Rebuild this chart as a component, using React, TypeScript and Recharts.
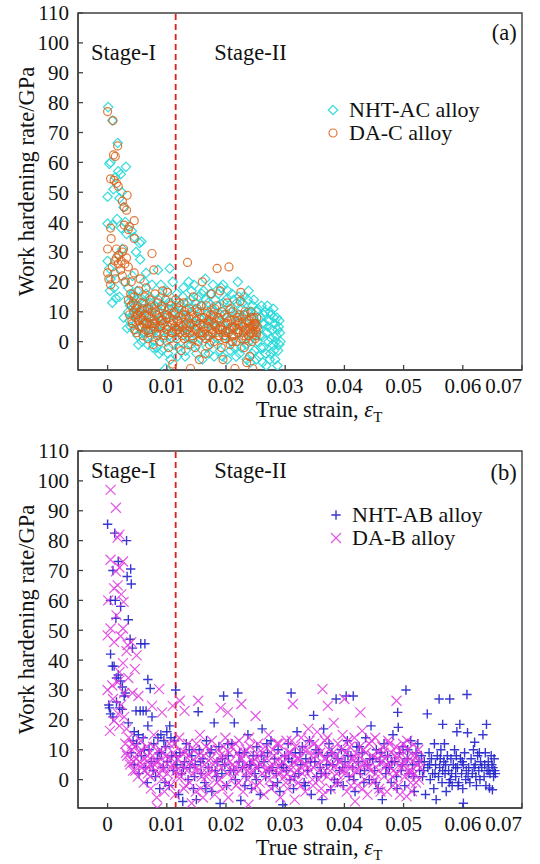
import { ScatterChart, Scatter, XAxis, YAxis, ReferenceLine, ReferenceArea, ReferenceDot, Legend } from 'recharts'

// reading of the two work-hardening panels, strain vs rate (GPa)
const FONT = 'Liberation Serif, Times New Roman, Times, Nimbus Roman, DejaVu Serif, Noto Serif, serif'
const X_TICKS = [0, 0.01, 0.02, 0.03, 0.04, 0.05, 0.06, 0.07]
const Y_TICKS = [0, 10, 20, 30, 40, 50, 60, 70, 80, 90, 100, 110]
const X_DOMAIN: [number, number] = [-0.005, 0.07]
const Y_DOMAIN: [number, number] = [-9.5, 110]
const STAGE_SPLIT = 0.0115

const COLORS = {
  cyan: '#2adada',
  orange: '#da621a',
  blue: '#2222cc',
  magenta: '#e038e0',
  red: '#e01e1e',
  axis: '#404040',
  text: '#111',
}

type Pt = [number, number]

// panel (a) NHT-AC alloy
const nhtAc: Pt[] = [
  [0.0001,78.5],[0.0008,74],[0.0017,66.5],[0.0005,60],[0.0003,59.5],[0.0018,57],[0.0031,58.5],[0.0022,56],[0.0013,55],[0.0,48.5],
  [0.001,51],[0.0024,50],[0.002,48],[0.0027,45],[0.0,39.5],[0.0008,39],[0.0016,41],[0.0023,38],[0.003,40],[0.0032,36],
  [0.0041,37],[0.0045,35],[0.0054,33],[0.0057,33.5],[0.0048,30],[0.0055,27.5],[0.0,27],[0.0003,24.5],[0.0012,23],[0.0005,21],
  [0.0008,13],[0.0014,14.5],[0.002,15],[0.0028,20],[0.0035,18],[0.0027,8],[0.0033,4.5],[0.0038,12],[0.0042,22],[0.0062,20],
  [0.0065,23],[0.0018,29],[0.0025,31],[0.0011,18],[0.0004,17],
  [0.0035,10],[0.0037,7],[0.004,15],[0.0042,9],[0.0044,4],[0.0046,12],[0.0048,6],[0.005,17],[0.0051,2],[0.0053,10],
  [0.0055,14],[0.0057,5],[0.0058,0],[0.006,8],[0.0062,11],[0.0063,3],[0.0065,16],[0.0067,6],[0.0068,-1],[0.007,9],
  [0.0072,13],[0.0073,2],[0.0075,19],[0.0076,5],[0.0078,0.5],[0.008,11],[0.0082,7],[0.0083,-2],[0.0085,24],[0.0086,14],
  [0.0088,3],[0.009,19],[0.0091,8],[0.0092,-3],[0.0094,12],[0.0095,1],[0.0097,5],[0.0098,-9],[0.01,17],[0.0101,9],
  [0.0102,-4],[0.0104,2],[0.0105,24.5],[0.0107,13],[0.0108,6],[0.011,20],[0.0111,-1],[0.0113,10],[0.0115,3],[0.0117,16],
  [0.0118,-5],[0.012,7],
  [0.0122,12],[0.0124,0],[0.0126,4],[0.0128,18],[0.013,8],[0.0132,-3],[0.0134,11],[0.0135,2],[0.0137,20],[0.0138,6],
  [0.014,14],[0.0141,-1],[0.0143,9],[0.0145,3],[0.0146,19],[0.0148,11],[0.015,-4],[0.0151,5],[0.0153,15],[0.0155,8],
  [0.0156,1],[0.0158,12],[0.016,-6],[0.0162,17],[0.0163,4],[0.0165,21],[0.0167,9],[0.0168,-2],[0.017,13],[0.0172,6],
  [0.0174,0],[0.0175,16],[0.0177,3],[0.0179,10],[0.018,-5],[0.0182,14],[0.0184,7],[0.0186,1],[0.0188,12],[0.019,-3],
  [0.0192,18],[0.0193,5],[0.0195,19],[0.0197,9],[0.0199,2],[0.02,14],[0.0202,-6],[0.0204,7],[0.0206,11],[0.0208,0],
  [0.021,16],[0.0212,4],[0.0214,-2],[0.0216,9],[0.0218,13],[0.022,20],[0.0221,3],[0.0223,-4],[0.0225,8],[0.0227,11],
  [0.0229,1],[0.023,15],[0.0232,6],[0.0234,-1],[0.0236,10],[0.0238,17],[0.024,4],[0.0241,-7],[0.0243,8],[0.0245,12],
  [0.0246,2],[0.0248,-3],[0.025,6],[0.0252,10],[0.0253,0],[0.0255,4],[0.0256,-5],[0.0258,8],[0.026,12],[0.0261,2],
  [0.0263,-2],[0.0265,6],[0.0266,10],[0.0268,-8],[0.0269,3],[0.027,12],[0.0272,0],[0.0273,7],[0.0275,-4],[0.0276,9],
  [0.0278,4],[0.0279,-1],[0.028,11],[0.0282,6],[0.0283,-6],[0.0285,2],[0.0286,8],[0.0288,-3],[0.0289,5],[0.029,-1],
  [0.0291,3],[0.0287,-8],[0.0284,0],[0.0271,5],[0.0262,6],[0.0257,2],
  [0.0036,13],[0.0039,5],[0.0043,16],[0.0047,9],[0.0049,14],[0.0052,-1],[0.0056,11],[0.0059,3],[0.0061,13],[0.0064,7],
  [0.0069,4],[0.0071,15],[0.0074,8],[0.0077,-2],[0.0079,12],[0.0081,4],[0.0084,9],[0.0087,-4],[0.0089,15],[0.0093,6],
  [0.0096,11],[0.0099,0],[0.0103,13],[0.0106,-6],[0.0109,9],[0.0112,4],[0.0116,12],[0.0119,-2],[0.0123,9],[0.0127,15],
  [0.0131,-5],[0.0133,5],[0.0136,13],[0.0139,1],[0.0142,17],[0.0147,6],[0.0149,13],[0.0152,-1],[0.0157,10],[0.0159,16],
  [0.0161,2],[0.0166,14],[0.0169,6],[0.0171,-4],[0.0176,11],[0.0178,19],[0.0181,6],[0.0185,-1],[0.0187,16],[0.0191,9],
  [0.0194,-5],[0.0196,13],[0.0201,4],[0.0203,17],[0.0207,-3],[0.0209,10],[0.0213,14],[0.0217,-5],[0.0219,6],[0.0222,15],
  [0.0226,-2],[0.0228,13],[0.0233,9],[0.0235,-6],[0.0237,14],[0.0239,0],[0.0242,10],[0.0244,-4],[0.0247,14],[0.0249,7],
  [0.0251,-6],[0.0254,11],[0.0259,-2],[0.0264,9],[0.0267,-4],[0.0274,10],[0.0277,1],[0.0281,-3],[0.0287,4],[0.029,7],
  [0.0292,0],[0.0274,-6],[0.0262,-7],[0.0281,8],
]

// panel (a) DA-C alloy
const daC: Pt[] = [
  [0.0,77],[0.0009,74],[0.0017,65.5],[0.001,62.5],[0.0013,62],[0.0005,54.5],[0.0015,53],[0.0011,54],[0.0018,52],[0.0033,49],
  [0.0025,47],[0.0028,45],[0.0032,44],[0.0037,38.5],[0.0035,37.5],[0.0045,40.5],[0.0028,39],[0.0045,34.5],[0.0005,38],[0.0006,34.5],
  [0.0,31],[0.0015,31],[0.0025,30],[0.0027,31],[0.0002,21],[0.0005,19],[0.0,23],[0.0012,27],[0.0018,26],[0.0022,24],
  [0.0025,22],[0.0015,28],[0.003,20],[0.0035,25],[0.0045,23],[0.0075,29.5],[0.0078,24],[0.0055,21],[0.0065,18],[0.0008,25],
  [0.0019,29],[0.0023,27],[0.0029,26],[0.0013,21],[0.0032,28],[0.004,20],
  [0.0035,14],[0.0037,9],[0.0039,16],[0.004,12],[0.0042,6],[0.0044,10],[0.0045,15],[0.0047,8],[0.0049,3],[0.005,12],
  [0.0052,7],[0.0053,17],[0.0055,10],[0.0057,5],[0.0058,13],[0.006,2],[0.0062,9],[0.0063,15],[0.0065,6],[0.0067,11],
  [0.0068,1],[0.007,8],[0.0072,14],[0.0073,4],[0.0075,10],[0.0077,-1],[0.0078,7],[0.008,16],[0.0082,3],[0.0083,9],
  [0.0085,13],[0.0087,5],[0.0088,0],[0.009,11],[0.0092,7],[0.0093,17],[0.0095,2],[0.0097,9],[0.0098,14],[0.01,4],
  [0.0101,16.5],[0.0103,-2],[0.0105,8],[0.0107,12],[0.0108,3],[0.011,-7.5],[0.0112,10],[0.0113,5],[0.0115,14],[0.0117,1],
  [0.0118,7],[0.012,11],[0.0122,3],[0.0124,-3],[0.0125,8],[0.0127,5],[0.0129,13],[0.013,1],[0.0132,9],[0.0134,4],
  [0.0135,26.5],[0.0136,-1],[0.0138,11],[0.014,-9],[0.0141,6],[0.0143,2],[0.0145,15],[0.0146,8],[0.0148,-2],[0.015,4],
  [0.0152,10],[0.0153,0],[0.0155,-6],[0.0156,6],[0.0158,12],[0.016,20],[0.0161,3],[0.0163,8],[0.0165,-4],[0.0166,1],
  [0.0168,10],[0.017,5],[0.0172,-1],[0.0173,7],[0.0175,16],[0.0177,3],[0.0178,9],[0.018,0],[0.0182,5],[0.0184,12],
  [0.0185,24.5],[0.0187,2],[0.0189,7],[0.019,17],[0.0192,-2],[0.0194,4],[0.0195,-6],[0.0197,9],[0.0198,1],[0.02,6],
  [0.0202,13],[0.0204,3],[0.0205,25],[0.0207,-1],[0.0209,7],[0.021,2],[0.0212,10],[0.0214,5],[0.0215,-9],[0.0217,0],
  [0.0219,8],[0.022,3],[0.0222,6],[0.0224,13.5],[0.0225,16.5],[0.0226,1],[0.0228,5],[0.023,9],[0.0231,-2],[0.0233,4],
  [0.0235,-7],[0.0236,7],[0.0238,2],[0.024,-5],[0.0241,5],[0.0243,8],[0.0244,0],[0.0245,-9],[0.0246,3],[0.0248,6],
  [0.0249,1],[0.025,4],[0.0251,2],
  [0.0048,11],[0.0056,8],[0.0064,4],[0.0071,6],[0.0079,5],[0.0086,8],[0.0094,6],[0.0102,5],[0.0109,6],[0.0116,4],
  [0.0123,6],[0.0131,3],[0.0139,5],[0.0147,4],[0.0154,3],[0.0162,5],[0.0169,2],[0.0176,4],[0.0183,3],[0.0191,5],
  [0.0199,3],[0.0206,4],[0.0213,2],[0.0221,4],[0.0229,3],[0.0237,4],[0.0242,3],[0.0247,5],[0.0252,3],
  [0.0041,7],[0.0043,13],[0.0046,4],[0.0051,9],[0.0054,5],[0.0059,11],[0.0061,6],[0.0066,9],[0.0069,3],[0.0074,12],
  [0.0076,6],[0.0081,10],[0.0084,2],[0.0089,7],[0.0091,12],[0.0096,3],[0.0099,8],[0.0104,11],[0.0106,1],[0.0111,7],
  [0.0114,9],[0.0119,4],[0.0121,13],[0.0126,2],[0.0128,9],[0.0133,6],[0.0137,8],[0.0142,10],[0.0144,1],[0.0149,7],
  [0.0151,11],[0.0157,3],[0.0159,8],[0.0164,6],[0.0167,12],[0.0171,2],[0.0174,9],[0.0179,6],[0.0181,11],[0.0186,4],
  [0.0188,8],[0.0193,10],[0.0196,2],[0.0201,8],[0.0203,6],[0.0208,11],[0.0211,0],[0.0216,7],[0.0218,4],[0.0223,9],
  [0.0227,6],[0.0232,10],[0.0234,1],[0.0239,7],[0.0242,10],[0.0247,8],[0.025,6],[0.0253,5],[0.0252,8],[0.0244,5],
  [0.0238,6],[0.023,2],[0.022,7],[0.021,5],[0.02,1],[0.019,4],[0.018,8],[0.017,7],[0.016,2],[0.015,7],
  [0.014,3],[0.013,10],[0.012,5],[0.011,3],[0.01,9],[0.009,5],[0.008,6],[0.007,11],[0.006,7],[0.005,9],
]

// panel (b) NHT-AB alloy
const nhtAb: Pt[] = [
  [0.0,85.5],[0.0012,82.5],[0.0032,80],[0.0018,73],[0.0009,70],[0.0039,70.5],[0.0033,68],[0.004,65.5],[0.0005,60],[0.0013,60],
  [0.0022,58],[0.0014,54],[0.0035,53.5],[0.0038,47],[0.0056,45.5],[0.0063,45.5],[0.0042,44],[0.0005,42],[0.0008,38],[0.0011,38],
  [0.0015,34],[0.0022,33],[0.0068,33.5],[0.0072,30.5],[0.0025,31],[0.003,29],[0.0002,25],[0.0005,22],[0.0009,21],[0.0015,26],
  [0.002,24],[0.0025,23.5],[0.0035,19],[0.0048,23],[0.0055,23],[0.006,23],[0.0065,23],[0.0075,21],[0.0068,18],[0.0115,30],
  [0.0105,18],[0.0085,14],[0.009,15],[0.0095,13],[0.01,16],[0.0018,35],[0.0028,28],[0.0003,24],[0.0045,16],[0.0052,15],
  [0.004,9],[0.0045,5],[0.0049,12],[0.0053,2],[0.0057,8],[0.006,14],[0.0064,4],[0.0067,-1],[0.007,10],[0.0074,6],
  [0.0078,12],[0.0081,1],[0.0084,7],[0.0088,-3],[0.0091,9],[0.0094,4],[0.0098,11],[0.0101,6],[0.0104,-2],[0.0108,8],
  [0.0111,3],[0.0113,13],[0.0117,5],[0.012,-5],[0.0122,9],[0.0125,2],[0.0127,-7.3],[0.013,6],[0.0133,12],[0.0136,0],
  [0.0139,4],[0.0142,8],[0.0145,-3],[0.0148,5],[0.015,-6.7],[0.0153,22.7],[0.0155,10],[0.0158,2],[0.0161,7],[0.0164,-1],
  [0.0167,13],[0.017,4],[0.0173,9],[0.0176,-4],[0.018,19],[0.0182,3],[0.0185,6],[0.0188,11],[0.019,-8],[0.0193,2],
  [0.0196,28],[0.0198,5],[0.0201,-2],[0.0204,8],[0.0207,3],[0.021,12],[0.0214,19],[0.0216,0],[0.022,29],[0.0222,6],
  [0.0225,-7],[0.0228,4],[0.0231,9],[0.0234,1],[0.0237,15],[0.024,5],[0.0243,-3],[0.0246,8],[0.0249,2],[0.0252,11],
  [0.0255,4],[0.0258,-5],[0.0261,17],[0.0264,6],[0.0267,1],[0.027,9],[0.0273,3],[0.0276,13],[0.0279,-2],[0.0282,7],
  [0.0285,2],[0.0288,10],[0.0291,-4],[0.0294,5],[0.0296,-8.4],[0.0299,8],[0.0302,3],[0.0305,12],[0.031,29],[0.0308,0],
  [0.0311,6],[0.0314,-3],[0.0317,9],[0.032,16],[0.0323,2],[0.0326,5],[0.0329,11],[0.0332,-1],[0.0335,7],[0.0338,3],
  [0.0341,13],[0.0344,-5],[0.0348,21.5],[0.035,6],[0.0353,1],[0.0356,9],[0.0359,4],[0.0362,-6.7],[0.0365,17],[0.0368,2],
  [0.0371,8],[0.0374,12],[0.0377,-3.4],[0.038,5],[0.0383,0],[0.0386,27],[0.0389,7],[0.0392,3],[0.0395,10],[0.0398,-2],
  [0.0401,6],[0.0403,28],[0.0405,13],[0.0408,1],[0.0411,8],[0.0414,4],[0.0415,28],[0.0418,-4],[0.0421,11],[0.0424,6],
  [0.0427,2],[0.043,9],[0.0433,-1],[0.0436,14],[0.0439,5],[0.0442,0],[0.0445,18],[0.0448,7],[0.0451,3],[0.0454,10],
  [0.0457,-3],[0.046,6],[0.0464,-6.7],[0.0467,12],[0.047,2],[0.0473,8],[0.0476,4],[0.0479,-1],[0.0482,15],[0.0485,6],
  [0.0488,1],[0.049,22.5],[0.0491,17.5],[0.0493,9],[0.0496,3],[0.0499,11],[0.0502,-2],[0.0504,30],[0.0506,7],[0.0509,2],
  [0.0512,13],[0.0515,5],[0.0518,-4],[0.0521,9],[0.0524,12],[0.0527,3],[0.053,8],
  [0.0532,1],[0.0535,6],[0.0537,-5],[0.054,22],[0.0541,4],[0.0543,9],[0.0545,0],[0.0547,7],[0.0549,2],[0.0551,-3],
  [0.0552,12],[0.0554,5],[0.0555,-6.7],[0.0557,8],[0.0559,1],[0.056,27],[0.0561,4],[0.0563,10],[0.0565,-1],[0.0566,18.5],
  [0.0568,6],[0.0569,12],[0.057,2],[0.0572,-4],[0.0574,8],[0.0576,3],[0.0578,27],[0.0579,0],[0.058,7],[0.0582,-2],
  [0.0584,5],[0.0586,10],[0.0588,1],[0.059,16],[0.0591,4],[0.0593,-1],[0.0595,18.5],[0.0596,7],[0.0598,2],[0.06,-3],
  [0.0601,5],[0.0603,9],[0.0605,0],[0.0607,28.5],[0.0608,15.7],[0.061,4],[0.0612,-1],[0.0614,7],[0.0616,2],[0.0618,10],
  [0.062,12.5],[0.0621,5],[0.0623,-2],[0.0625,8],[0.0627,3],[0.0629,0],[0.063,6],[0.0632,4],[0.0634,15],[0.0636,1],
  [0.0638,9],[0.064,18.5],[0.0641,3],[0.0643,6],[0.0645,-2.8],[0.0646,2],[0.0648,8],[0.065,-3.4],[0.0651,4],[0.0652,1],
  [0.0653,7],[0.0654,3],[0.0601,-7.9],[0.0588,4],[0.0577,-1],[0.0566,3],
  [0.0043,13],[0.0062,10],[0.0077,3],[0.0087,9],[0.0097,-1],[0.0107,14],[0.0116,8],[0.0128,4],[0.0138,10],[0.0147,1],
  [0.0157,6],[0.0166,-3],[0.0175,10],[0.0184,1],[0.0194,7],[0.0203,12],[0.0213,3],[0.0223,9],[0.0232,-2],[0.0242,5],
  [0.0251,0],[0.026,8],[0.0269,12],[0.0278,4],[0.0287,-1],[0.0297,4],[0.0306,7],[0.0316,1],[0.0325,9],[0.0334,-2],
  [0.0343,6],[0.0352,10],[0.0361,2],[0.037,5],[0.0379,9],[0.0388,-1],[0.0397,4],[0.0406,8],[0.0416,0],[0.0425,11],
  [0.0434,3],[0.0443,7],[0.0453,-1],[0.0462,9],[0.0471,4],[0.048,6],[0.0489,-3],[0.0498,5],[0.0507,10],[0.0517,1],
  [0.0526,6],[0.0534,3],[0.0544,5],[0.0553,2],[0.0562,7],[0.0571,5],[0.0581,2],[0.0589,8],[0.0599,6],[0.0609,1],
  [0.0619,4],[0.0628,9],[0.0637,5],[0.0644,3],[0.0649,5],[0.0655,2],[0.0639,-2],[0.0622,1],[0.0606,3],[0.0592,-2],
]

// panel (b) DA-B alloy
const daB: Pt[] = [
  [0.0005,97],[0.0014,91],[0.0017,81],[0.002,82],[0.0005,73.6],[0.0014,69.7],[0.002,71],[0.0026,73],[0.0001,60],[0.0011,64],
  [0.0017,65],[0.0023,62],[0.0027,59.5],[0.0,48.3],[0.0005,50.6],[0.0011,46],[0.0026,50.6],[0.0034,45],[0.004,46],[0.0049,41.6],
  [0.0046,37],[0.002,36],[0.0026,39],[0.0,30],[0.0008,31.5],[0.0017,32.6],[0.0028,29],[0.0004,16.3],[0.0011,19.7],[0.002,18],
  [0.0028,21],[0.0052,28],[0.0087,30.3],[0.0075,24.7],[0.0092,22.5],[0.0015,55],[0.0022,48],[0.0032,43],[0.0009,27],[0.0023,25],
  [0.0035,34],[0.0042,29],[0.0018,22],[0.0032,17],
  [0.003,12],[0.0033,8],[0.0036,14],[0.0038,5],[0.0041,10],[0.0043,3],[0.0046,11],[0.0048,7],[0.0051,1],[0.0053,9],
  [0.0056,13],[0.0058,4],[0.0061,-1],[0.0063,7],[0.0066,11],[0.0068,2],[0.0071,5],[0.0073,-3],[0.0076,8],[0.0078,15],
  [0.0081,3],[0.0083,-6],[0.0084,-9.5],[0.0086,6],[0.0089,10],[0.0091,0],[0.0094,4],[0.0096,-4],[0.0099,8],[0.0101,2],
  [0.0104,12],[0.0106,-2],[0.011,24.7],[0.0109,5],[0.0111,9],[0.0114,-5],[0.0116,3],[0.0119,7],[0.0122,26.4],[0.0121,14],
  [0.0124,1],[0.0126,5],[0.013,23],[0.0129,-3],[0.0131,9],[0.0134,3],[0.0136,12],[0.0139,-1],[0.0142,-7.9],[0.0141,6],
  [0.0144,2],[0.0146,10],[0.0149,-4],[0.0151,4],[0.0153,26.4],[0.0154,8],[0.0156,15],[0.0159,1],[0.0161,-6],[0.0164,5],
  [0.0166,11],[0.0169,2],[0.0171,-2],[0.0174,7],[0.0176,13],[0.0179,3],[0.0181,-5],[0.0184,6],[0.0186,10],[0.0189,0],
  [0.0191,24],[0.0192,4],[0.0194,-3],[0.0197,8],[0.0199,14],[0.0203,22.5],[0.0202,2],[0.0204,-6],[0.0207,6],[0.0209,11],
  [0.0212,1],[0.0214,4],[0.0217,-2],[0.0219,9],[0.0222,13],[0.0226,25.3],[0.0224,3],[0.0227,7],[0.0229,-4],[0.0232,5],
  [0.0234,10],[0.0237,0],[0.0238,-8.4],[0.0239,14],[0.0242,2],[0.0244,6],[0.0247,-3],[0.025,21.3],[0.0249,8],[0.0252,4],
  [0.0254,12],[0.0257,-1],[0.0259,5],[0.0262,9],[0.0264,-5],[0.0267,3],[0.0269,7],[0.0272,15],[0.0274,0],[0.0277,4],
  [0.0279,10],[0.0282,-2],[0.0284,6],[0.0287,2],[0.0289,12],[0.0292,-6],[0.0294,5],[0.0297,8],[0.0299,1],[0.0302,13],
  [0.0304,-3],[0.0307,4],[0.0309,9],[0.0313,25.3],[0.0312,0],[0.0314,6],[0.0316,-6.7],[0.0317,11],[0.0319,3],[0.0322,-1],
  [0.0324,7],[0.0327,14],[0.0329,2],[0.0332,5],[0.0334,-4],[0.0337,10],[0.0339,17],[0.0342,3],[0.0344,8],[0.0347,-2],
  [0.0349,12],[0.0352,5],[0.0354,16],[0.0357,0],[0.0359,9],[0.0363,30.3],[0.0362,4],[0.0364,-5],[0.0367,13],[0.0369,7],
  [0.0372,24.7],[0.0371,1],[0.0374,10],[0.0377,-3],[0.0379,5],[0.0382,19],[0.0384,8],[0.0387,2],[0.0389,12],[0.0392,-1],
  [0.0394,6],[0.0397,15],[0.04,27],[0.0399,3],[0.0402,9],[0.0404,-4],[0.0407,5],[0.0409,11],[0.0412,1],[0.0414,7],
  [0.0417,14],[0.0418,-7.3],[0.0419,3],[0.0422,-2],[0.0424,8],[0.0427,22.5],[0.0429,5],[0.043,16.3],[0.0432,10],[0.0434,0],
  [0.0437,6],[0.0439,-5],[0.0442,12],[0.0444,3],[0.0447,8],[0.0449,-1],[0.0452,14],[0.0454,4],[0.0457,9],[0.0459,-3],
  [0.0462,6],[0.0464,11],[0.0467,1],[0.0469,7],[0.0472,-4],[0.0474,13],[0.0477,4],[0.0479,9],[0.0482,-2],[0.0484,6],
  [0.0488,26.4],[0.0487,11],[0.0489,2],[0.0492,8],[0.0494,-5],[0.0497,4],[0.0499,12],[0.0502,1],[0.0505,-5.6],[0.0504,7],
  [0.0507,10],[0.0509,3],[0.0512,-1],[0.0514,-3.9],[0.0515,6],[0.0517,11.8],[0.0519,2],[0.0522,8],[0.0524,5],[0.0526,0],
  [0.0528,4],
  [0.0044,6],[0.0059,5],[0.0069,4],[0.0079,5],[0.0093,3],[0.0107,4],[0.0123,3],[0.0137,5],[0.0152,3],[0.0168,4],
  [0.0183,2],[0.0198,5],[0.0213,3],[0.0228,4],[0.0243,3],[0.0258,5],[0.0273,3],[0.0288,4],[0.0303,2],[0.0318,5],
  [0.0333,3],[0.0348,4],[0.0363,2],[0.0378,5],[0.0393,3],[0.0408,4],[0.0423,3],[0.0438,5],[0.0453,2],[0.0468,4],
  [0.0483,3],[0.0498,5],[0.0513,3],
  [0.0031,9],[0.0037,6],[0.0042,12],[0.0047,3],[0.0054,6],[0.0057,10],[0.0062,3],[0.0067,8],[0.0072,1],[0.0077,11],
  [0.0082,6],[0.0087,2],[0.0092,9],[0.0097,6],[0.0102,-1],[0.0108,7],[0.0113,12],[0.0118,1],[0.0125,9],[0.0132,-2],
  [0.0138,8],[0.0145,5],[0.015,12],[0.0157,-3],[0.0162,8],[0.0167,1],[0.0173,10],[0.0178,5],[0.0185,-1],[0.019,8],
  [0.0196,11],[0.0201,-2],[0.0206,9],[0.0211,5],[0.0216,12],[0.0221,-1],[0.0225,7],[0.0231,9],[0.0236,3],[0.0241,11],
  [0.0246,6],[0.0251,-2],[0.0256,8],[0.0261,2],[0.0266,11],[0.0271,4],[0.0276,-3],[0.0281,8],[0.0286,12],[0.0291,2],
  [0.0296,6],[0.0301,-1],[0.0306,9],[0.0311,13],[0.0315,2],[0.0321,7],[0.0326,-2],[0.0331,10],[0.0336,5],[0.0341,13],
  [0.0346,0],[0.0351,8],[0.0356,11],[0.0361,-3],[0.0366,7],[0.0371,14],[0.0376,3],[0.0381,9],[0.0386,-1],[0.0391,6],
  [0.0396,10],[0.0401,2],[0.0406,13],[0.0411,-2],[0.0416,8],[0.0421,5],[0.0426,11],[0.0431,-3],[0.0436,9],[0.0441,4],
  [0.0446,13],[0.0451,0],[0.0456,7],[0.0461,-4],[0.0466,9],[0.0471,5],[0.0476,12],[0.0481,1],[0.0486,8],[0.0491,-2],
  [0.0496,10],[0.0501,6],[0.0506,13],[0.0511,2],[0.0516,8],[0.0521,-1],[0.0525,10],[0.0527,6],
]

type Kind = 'diamond' | 'circle' | 'plus' | 'cross'
interface Series { name: string; points: Pt[]; kind: Kind; color: string }

const panelA: Series[] = [
  { name: 'NHT-AC alloy', points: nhtAc, kind: 'diamond', color: COLORS.cyan },
  { name: 'DA-C alloy', points: daC, kind: 'circle', color: COLORS.orange },
]
const panelB: Series[] = [
  { name: 'NHT-AB alloy', points: nhtAb, kind: 'plus', color: COLORS.blue },
  { name: 'DA-B alloy', points: daB, kind: 'cross', color: COLORS.magenta },
]

function Marker({ kind, cx, cy, color }: { kind: Kind; cx: number; cy: number; color: string }) {
  if (cx == null || cy == null) return <g />
  if (kind === 'diamond') {
    const r = 4.7
    return <path d={`M${cx},${cy - r}L${cx + r},${cy}L${cx},${cy + r}L${cx - r},${cy}Z`} fill="none" stroke={color} strokeWidth={1.2} strokeOpacity={0.95} />
  }
  if (kind === 'circle') {
    return <circle cx={cx} cy={cy} r={4} fill="none" stroke={color} strokeWidth={1.2} strokeOpacity={0.85} />
  }
  if (kind === 'plus') {
    const r = 4.7
    return <path d={`M${cx - r},${cy}H${cx + r}M${cx},${cy - r}V${cy + r}`} stroke={color} strokeWidth={1.4} strokeOpacity={0.9} />
  }
  const r = 5
  return <path d={`M${cx - r},${cy - r}L${cx + r},${cy + r}M${cx - r},${cy + r}L${cx + r},${cy - r}`} stroke={color} strokeWidth={1.2} strokeOpacity={0.85} />
}

const fmtStrain = (v: number) => (v === 0 ? '0' : v.toFixed(2))

function XTick(props: any) {
  const { x, y, payload } = props
  const last = payload.value === X_TICKS[X_TICKS.length - 1]
  return (
    <text x={x} y={y} dy="0.71em" textAnchor={last ? 'end' : 'middle'} style={{ fontFamily: FONT }} fontSize={21} fill={COLORS.text}>
      {fmtStrain(payload.value)}
    </text>
  )
}

function YTitle(props: any) {
  const vb = props.viewBox
  const x = 26
  const y = vb.y + vb.height / 2 - 10
  return (
    <text x={x} y={y} transform={`rotate(-90, ${x}, ${y})`} textAnchor="middle" dominantBaseline="central"
      style={{ fontFamily: FONT }} fontSize={22.5} fill={COLORS.text}>
      Work hardening rate/GPa
    </text>
  )
}

function XTitle(props: any) {
  const vb = props.viewBox
  return (
    <text x={vb.x + vb.width / 2 + 19} y={vb.y + 47} textAnchor="middle" style={{ fontFamily: FONT }} fontSize={22.5} fill={COLORS.text}>
      True strain, <tspan fontStyle="italic">ε</tspan>
      <tspan fontSize={15} dy={5}>T</tspan>
    </text>
  )
}

function legendFor(series: Series[]) {
  return () => (
    <div style={{ fontFamily: FONT, fontSize: 22, color: COLORS.text, lineHeight: '22px' }}>
      {series.map(s => (
        <div key={s.name} style={{ display: 'flex', alignItems: 'center', height: 22.5, whiteSpace: 'nowrap' }}>
          <svg width={16} height={16} style={{ display: 'block' }}>
            <Marker kind={s.kind} cx={8} cy={8} color={s.color} />
          </svg>
          <span style={{ marginLeft: 8 }}>{s.name}</span>
        </div>
      ))}
    </div>
  )
}

const textStyle = { fontFamily: FONT, fontSize: 22.5, fill: COLORS.text }

interface PanelProps {
  tag: string
  series: Series[]
  height: number
  xAxisHeight: number
  stageY: number
  tagY: number
  legendTop: number
  legendLeft: number
}

function Panel({ tag, series, height, xAxisHeight, stageY, tagY, legendTop, legendLeft }: PanelProps) {
  return (
    <ScatterChart width={540} height={height} margin={{ top: 13, right: 18, bottom: 0, left: 0 }} style={{ fontFamily: FONT }}>
      <XAxis
        type="number" dataKey="x" domain={X_DOMAIN} ticks={X_TICKS} allowDataOverflow interval={0}
        height={xAxisHeight} tick={<XTick />} tickSize={-5} tickMargin={13}
        axisLine={{ stroke: COLORS.axis, strokeWidth: 1.4 }} tickLine={{ stroke: COLORS.axis, strokeWidth: 1.3 }}
        label={{ content: <XTitle /> }}
      />
      <YAxis
        type="number" dataKey="y" domain={Y_DOMAIN} ticks={Y_TICKS} allowDataOverflow interval={0}
        width={78} tickSize={-5} tickMargin={14}
        tick={{ fontFamily: FONT, fontSize: 21, fill: COLORS.text, style: { fontFamily: FONT } }}
        axisLine={{ stroke: COLORS.axis, strokeWidth: 1.4 }} tickLine={{ stroke: COLORS.axis, strokeWidth: 1.3 }}
        label={{ content: <YTitle /> }}
      />
      {series.map(s => (
        <Scatter
          key={s.name}
          name={s.name}
          data={s.points.map(([x, y]) => ({ x, y }))}
          isAnimationActive={false}
          shape={(p: any) => <Marker kind={s.kind} cx={p.cx} cy={p.cy} color={s.color} />}
        />
      ))}
      <ReferenceLine x={STAGE_SPLIT} stroke={COLORS.red} strokeWidth={1.8} strokeDasharray="6 4" />
      <ReferenceArea x1={X_DOMAIN[0]} x2={X_DOMAIN[1]} y1={Y_DOMAIN[0]} y2={Y_DOMAIN[1]} fill="none" stroke={COLORS.axis} strokeWidth={1.4} />
      <ReferenceDot x={-0.0028} y={stageY} r={0} fill="none" stroke="none"
        label={{ value: 'Stage-I', position: 'right', offset: 0, ...textStyle, style: { fontFamily: FONT } }} />
      <ReferenceDot x={0.018} y={stageY} r={0} fill="none" stroke="none"
        label={{ value: 'Stage-II', position: 'right', offset: 0, ...textStyle, style: { fontFamily: FONT } }} />
      <ReferenceDot x={0.0691} y={tagY} r={0} fill="none" stroke="none"
        label={{ value: tag, position: 'left', offset: 0, ...textStyle, style: { fontFamily: FONT } }} />
      <Legend
        layout="vertical" align="center" verticalAlign="middle"
        content={legendFor(series)}
        wrapperStyle={{ left: legendLeft, top: legendTop, width: 'auto', height: 'auto' }}
      />
    </ScatterChart>
  )
}

export default function App() {
  return (
    <div style={{ position: 'absolute', left: 0, top: 0, width: 540, height: 864, overflow: 'hidden', background: '#fff', fontFamily: FONT }}>
      <div style={{ position: 'absolute', left: 0, top: 0 }}>
        <Panel tag="(a)" series={panelA} height={430} xAxisHeight={60} stageY={97} tagY={103.5} legendTop={99} legendLeft={325} />
      </div>
      <div style={{ position: 'absolute', left: 0, top: 438 }}>
        <Panel tag="(b)" series={panelB} height={426} xAxisHeight={56} stageY={103.6} tagY={103} legendTop={66} legendLeft={328} />
      </div>
    </div>
  )
}
